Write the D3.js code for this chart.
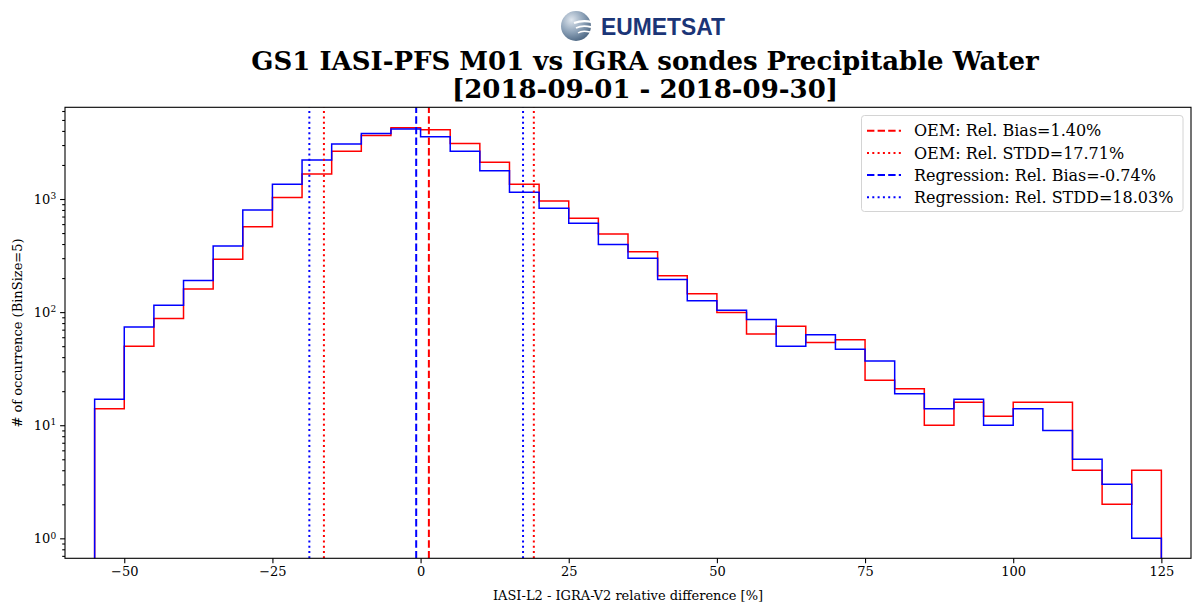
<!DOCTYPE html>
<html>
<head>
<meta charset="utf-8">
<script src="https://cdn.jsdelivr.net/npm/d3@7"></script>
<style>
    body { margin: 0; background: #fff; }
    text { font-family: 'DejaVu Serif', serif; fill: #000; }
</style>
</head>
<body>
<script>
'use strict';

// histogram bins, 5 % wide
var binEdges = [-55, -50, -45, -40, -35, -30, -25, -20, -15, -10, -5, 0, 5, 10, 15, 20, 25, 30,
    35, 40, 45, 50, 55, 60, 65, 70, 75, 80, 85, 90, 95, 100, 105, 110, 115, 120, 125];

var oemCounts = [14, 50, 88, 160, 293, 570, 1030, 1660, 2640, 3650, 4270, 4100, 3100, 2110,
    1350, 960, 675, 490, 342, 210, 145, 99, 64, 75, 54, 57, 25, 21, 10, 16, 12, 16, 16, 4, 2, 4];

var regCounts = [17, 74, 115, 190, 385, 800, 1350, 2210, 3060, 3800, 4160, 3550, 2640, 1780,
    1150, 830, 610, 397, 299, 194, 126, 104, 86, 50, 63, 47, 37, 19, 14, 17, 10, 14, 9, 5, 3, 1];

var seriesNames = ['OEM', 'Regression'];
var seriesColors = ['#ff0000', '#0000ff'];
var relBias = [1.40, -0.74];
var relStdd = [17.71, 18.03];

var xTicks = [-50, -25, 0, 25, 50, 75, 100, 125];
var yTicks = [1, 10, 100, 1000];

var width = 1197;
var height = 606;

var svg = d3.select('body').append('svg')
    .attr('width', width)
    .attr('height', height);

var x = d3.scaleLinear().domain([-60, 130]).range([65, 1191]);
var y = d3.scaleLog().domain([0.666, 6470]).range([558.3, 107.3]);

svg.append('clipPath')
    .attr('id', 'plot-clip')
    .append('rect')
    .attr('x', x.range()[0])
    .attr('y', y.range()[1])
    .attr('width', x.range()[1] - x.range()[0])
    .attr('height', y.range()[0] - y.range()[1]);

// logo
var logo = svg.append('g').attr('transform', 'translate(576,26)');
var grad = svg.append('defs').append('radialGradient')
    .attr('id', 'globe')
    .attr('cx', '35%').attr('cy', '30%').attr('r', '75%');
grad.append('stop').attr('offset', '0%').attr('stop-color', '#dfe6ee');
grad.append('stop').attr('offset', '55%').attr('stop-color', '#8da2b8');
grad.append('stop').attr('offset', '100%').attr('stop-color', '#4c6682');
logo.append('circle').attr('r', 15).attr('fill', 'url(#globe)');
[[-3, 13], [2, 10], [7, 7]].forEach(function (s, i) {
    logo.append('path')
        .attr('d', 'M' + (-2 + i * 2) + ',' + s[0] + ' Q6,' + (s[0] - 3) + ' ' + (16 - i) + ',' + (s[0] - 1))
        .attr('fill', 'none')
        .attr('stroke', '#fff')
        .attr('stroke-width', 2.2 - i * 0.4);
});
svg.append('text')
    .attr('x', 601)
    .attr('y', 35)
    .attr('textLength', 124)
    .attr('lengthAdjust', 'spacingAndGlyphs')
    .style('font-family', "'Liberation Sans', Arial, sans-serif")
    .style('font-weight', 'bold')
    .style('font-size', '23px')
    .style('fill', '#1b3577')
    .text('EUMETSAT');

// title
var title = ['GS1 IASI-PFS M01 vs IGRA sondes Precipitable Water', '[2018-09-01 - 2018-09-30]'];
svg.selectAll('.title')
    .data(title)
    .enter().append('text')
    .attr('class', 'title')
    .attr('x', 645)
    .attr('y', function (d, i) { return 69.5 + i * 28; })
    .attr('text-anchor', 'middle')
    .style('font-size', '26px')
    .style('font-weight', 'bold')
    .text(function (d) { return d; });

// histograms as steps
function stepPoints(counts) {
    var pts = [[binEdges[0], 0.01]];
    counts.forEach(function (c, i) {
        pts.push([binEdges[i], c]);
        pts.push([binEdges[i + 1], c]);
    });
    pts.push([binEdges[binEdges.length - 1], 0.01]);
    return pts;
}

var line = d3.line()
    .x(function (d) { return x(d[0]); })
    .y(function (d) { return y(d[1]); });

var plot = svg.append('g').attr('clip-path', 'url(#plot-clip)');

[oemCounts, regCounts].forEach(function (counts, i) {
    plot.append('path')
        .attr('d', line(stepPoints(counts)))
        .attr('fill', 'none')
        .attr('stroke', seriesColors[i])
        .attr('stroke-width', 1.5)
        .attr('stroke-linejoin', 'miter');
});

// bias and bias +/- stdd lines
var dashes = { dashed: '7.4,3.2', dotted: '2,3.3' };
var vlines = [];
seriesNames.forEach(function (name, i) {
    vlines.push({ v: relBias[i], c: seriesColors[i], s: 'dashed' });
    vlines.push({ v: relBias[i] - relStdd[i], c: seriesColors[i], s: 'dotted' });
    vlines.push({ v: relBias[i] + relStdd[i], c: seriesColors[i], s: 'dotted' });
});

plot.selectAll('.vline')
    .data(vlines)
    .enter().append('line')
    .attr('class', 'vline')
    .attr('x1', function (d) { return x(d.v); })
    .attr('x2', function (d) { return x(d.v); })
    .attr('y1', y.range()[0])
    .attr('y2', y.range()[1])
    .attr('stroke', function (d) { return d.c; })
    .attr('stroke-width', 2)
    .attr('stroke-dasharray', function (d) { return dashes[d.s]; });

// axes
var xAxis = svg.append('g')
    .attr('transform', 'translate(0,' + y.range()[0] + ')')
    .call(d3.axisBottom(x)
        .tickValues(xTicks)
        .tickSize(4.9)
        .tickPadding(4)
        .tickFormat(function (d) { return d < 0 ? '\u2212' + Math.abs(d) : d; }));

var minorTicks = y.ticks().filter(function (d) { return yTicks.indexOf(d) < 0; });

var yMinor = svg.append('g')
    .attr('transform', 'translate(' + x.range()[0] + ',0)')
    .call(d3.axisLeft(y).tickValues(minorTicks).tickSize(2.8).tickFormat(''));

var yAxis = svg.append('g')
    .attr('transform', 'translate(' + x.range()[0] + ',0)')
    .call(d3.axisLeft(y).tickValues(yTicks).tickSize(4.9).tickPadding(4).tickFormat(''));

yAxis.selectAll('.tick text').each(function (d) {
    var t = d3.select(this);
    t.append('tspan').text('10');
    t.append('tspan')
        .attr('dy', '-0.5em')
        .style('font-size', '9px')
        .text(Math.round(Math.log10(d)));
});

[xAxis, yAxis, yMinor].forEach(function (g) {
    g.select('.domain').remove();
    g.selectAll('.tick line').attr('stroke', '#000').attr('stroke-width', 1.1);
    g.selectAll('.tick text')
        .style('font-family', "'DejaVu Serif', serif")
        .style('font-size', '13px')
        .attr('fill', '#000');
});

svg.append('rect')
    .attr('x', x.range()[0])
    .attr('y', y.range()[1])
    .attr('width', x.range()[1] - x.range()[0])
    .attr('height', y.range()[0] - y.range()[1])
    .attr('fill', 'none')
    .attr('stroke', '#000')
    .attr('stroke-width', 1.1);

svg.append('text')
    .attr('x', 628)
    .attr('y', 600)
    .attr('text-anchor', 'middle')
    .style('font-size', '13px')
    .text('IASI-L2 - IGRA-V2 relative difference [%]');

svg.append('text')
    .attr('transform', 'translate(22,333) rotate(-90)')
    .attr('text-anchor', 'middle')
    .style('font-size', '13px')
    .text('# of occurrence (BinSize=5)');

// legend
var legendItems = [
    { label: 'OEM: Rel. Bias=1.40%', c: seriesColors[0], s: 'dashed' },
    { label: 'OEM: Rel. STDD=17.71%', c: seriesColors[0], s: 'dotted' },
    { label: 'Regression: Rel. Bias=-0.74%', c: seriesColors[1], s: 'dashed' },
    { label: 'Regression: Rel. STDD=18.03%', c: seriesColors[1], s: 'dotted' }
];

var legend = svg.append('g');
legend.append('rect')
    .attr('x', 861.5)
    .attr('y', 115.5)
    .attr('width', 321.5)
    .attr('height', 96)
    .attr('rx', 3)
    .attr('fill', '#fff')
    .attr('fill-opacity', 0.8)
    .attr('stroke', '#d4d4d4')
    .attr('stroke-width', 1);

var item = legend.selectAll('.item')
    .data(legendItems)
    .enter().append('g')
    .attr('class', 'item')
    .attr('transform', function (d, i) { return 'translate(0,' + (130.7 + i * 22.2) + ')'; });

item.append('line')
    .attr('x1', 867)
    .attr('x2', 901)
    .attr('stroke', function (d) { return d.c; })
    .attr('stroke-width', 2)
    .attr('stroke-dasharray', function (d) { return dashes[d.s]; });

item.append('text')
    .attr('x', 914)
    .attr('dy', '0.36em')
    .style('font-size', '16px')
    .text(function (d) { return d.label; });
</script>
</body>
</html>
